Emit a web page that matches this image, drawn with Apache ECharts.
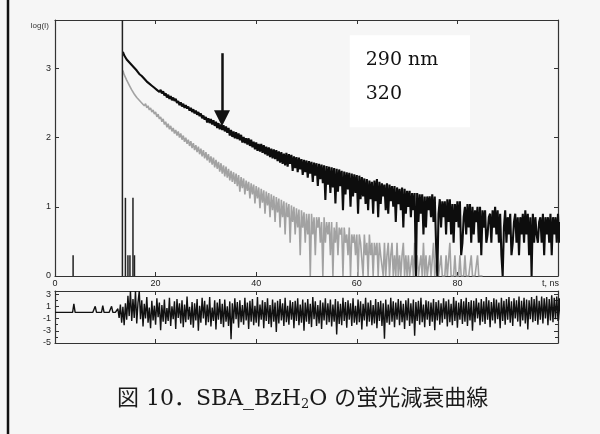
<!DOCTYPE html>
<html><head><meta charset="utf-8">
<script src="https://cdn.jsdelivr.net/npm/echarts@6/dist/echarts.min.js"></script>
<style>html,body{margin:0;padding:0;background:#f6f6f6}#c{width:600px;height:434px}</style>
</head><body><div id="c"></div>
<script>
// ---- data ----
const caption = '図 10．SBA_BzH{sub|2}O の蛍光減衰曲線';
const boxLines = ['290 nm', '320'];
const xTickLabels = [0, 20, 40, 60, 80];
const yTickLabels = [0, 1, 2, 3];
const residTickLabels = [3, 1, -1, -3, -5];
const dt = 0.25;             // ns between channels drawn
const blackT0 = 13.5;        // ns, first black point (290 nm)
const grayT0 = 13.5;         // ns, first gray point (320)
const residT0 = 0;           // ns, first residual point

// log(I), 290 nm (black)
const blackLog = [
3.24,3.19,3.20,3.13,3.15,3.09,3.11,3.05,3.07,3.01,
3.02,2.97,2.98,2.92,2.94,2.89,2.91,2.85,2.86,2.81,
2.83,2.78,2.80,2.75,2.77,2.72,2.74,2.69,2.71,2.66,
2.69,2.64,2.67,2.61,2.64,2.58,2.62,2.56,2.60,2.54,
2.58,2.53,2.56,2.50,2.53,2.47,2.51,2.45,2.49,2.43,
2.47,2.42,2.45,2.39,2.43,2.37,2.41,2.35,2.39,2.33,
2.37,2.31,2.35,2.28,2.32,2.26,2.30,2.22,2.28,2.21,
2.27,2.19,2.25,2.17,2.23,2.14,2.21,2.12,2.19,2.11,
2.18,2.09,2.16,2.07,2.14,2.03,2.11,2.01,2.09,1.99,
2.08,1.98,2.06,1.96,2.04,1.93,2.01,1.92,1.99,1.90,
1.99,1.88,1.97,1.86,1.94,1.83,1.93,1.81,1.91,1.80,
1.91,1.78,1.89,1.76,1.87,1.74,1.86,1.72,1.84,1.70,
1.83,1.69,1.82,1.66,1.80,1.64,1.79,1.62,1.77,1.60,
1.78,1.58,1.76,1.62,1.75,1.52,1.73,1.56,1.72,1.50,
1.71,1.54,1.69,1.46,1.68,1.50,1.67,1.42,1.66,1.48,
1.65,1.36,1.64,1.45,1.63,1.30,1.62,1.40,1.61,1.34,
1.60,1.10,1.59,1.32,1.58,1.20,1.57,1.28,1.56,1.05,
1.55,1.22,1.54,1.30,1.52,0.95,1.51,1.18,1.50,1.25,
1.49,1.00,1.48,1.15,1.47,1.20,1.46,0.90,1.45,1.11,
1.43,1.15,1.41,1.04,1.40,0.95,1.38,1.11,1.36,0.90,
1.38,1.08,1.40,0.85,1.36,1.04,1.34,1.15,1.32,0.95,
1.34,0.90,1.32,1.08,1.30,1.00,1.30,0.78,1.28,1.04,
1.26,0.95,1.28,0.70,1.26,0.90,1.23,1.00,1.23,0.85,
1.20,0.95,1.20,0.00,1.20,0.78,1.18,0.90,1.18,0.60,
1.15,0.70,1.15,0.95,1.15,0.85,1.18,0.78,1.15,0.48,
0.00,0.90,1.11,0.70,1.08,0.85,1.08,0.60,1.11,0.78,
1.11,0.60,1.04,0.48,1.04,0.78,1.08,0.70,1.08,0.30,
0.48,0.85,1.00,0.60,1.04,0.70,1.04,0.48,1.00,0.60,
0.95,0.78,1.00,0.48,1.00,0.30,0.95,0.70,0.95,0.48,
0.60,0.85,0.90,0.48,0.95,0.70,1.00,0.60,0.95,0.48,
0.90,0.30,0.00,0.70,0.95,0.48,0.85,0.60,0.90,0.30,
0.48,0.78,0.90,0.48,0.85,0.30,0.85,0.60,0.90,0.48,
0.95,0.60,0.90,0.30,0.85,0.00,0.90,0.48,0.85,0.60,
0.48,0.78,0.85,0.48,0.90,0.30,0.85,0.60,0.85,0.48,
0.90,0.30,0.85,0.60,0.85,0.48,0.90,0.48,0.78];

// log(I), 320 (gray)
const grayLog = [
2.97,2.91,2.89,2.83,2.82,2.76,2.76,2.69,2.70,2.63,
2.64,2.58,2.60,2.54,2.56,2.50,2.52,2.46,2.49,2.43,
2.46,2.40,2.43,2.37,2.40,2.34,2.37,2.30,2.34,2.27,
2.30,2.23,2.27,2.19,2.23,2.15,2.20,2.12,2.17,2.09,
2.14,2.06,2.11,2.03,2.09,2.00,2.06,1.97,2.03,1.94,
2.00,1.91,1.97,1.88,1.95,1.85,1.92,1.82,1.89,1.79,
1.87,1.76,1.84,1.73,1.82,1.70,1.79,1.67,1.76,1.64,
1.73,1.61,1.71,1.57,1.68,1.55,1.65,1.51,1.63,1.48,
1.60,1.44,1.58,1.42,1.55,1.38,1.52,1.36,1.50,1.33,
1.48,1.30,1.46,1.22,1.43,1.27,1.41,1.18,1.38,1.23,
1.36,1.12,1.34,1.18,1.32,1.05,1.30,1.12,1.28,0.98,
1.26,1.06,1.24,0.90,1.22,1.02,1.20,0.85,1.18,0.95,
1.16,0.78,1.14,0.92,1.12,0.70,1.10,0.85,1.08,0.60,
1.06,0.85,1.04,0.48,1.02,0.78,1.00,0.60,0.98,0.70,
0.96,0.30,0.95,0.70,0.92,0.48,0.90,0.60,0.90,0.00,
0.90,0.60,0.85,0.30,0.85,0.70,0.85,0.48,0.78,0.00,
0.85,0.48,0.78,0.60,0.78,0.30,0.78,0.00,0.70,0.48,
0.78,0.30,0.70,0.60,0.70,0.00,0.70,0.48,0.60,0.30,
0.70,0.00,0.60,0.48,0.60,0.30,0.60,0.00,0.60,0.48,
0.48,0.00,0.60,0.30,0.48,0.00,0.60,0.30,0.48,0.00,
0.48,0.30,0.48,0.00,0.48,0.30,0.30,0.00,0.48,0.00,
0.30,0.48,0.00,0.30,0.48,0.00,0.30,0.00,0.48,0.00,
0.30,0.00,0.30,0.48,0.00,0.30,0.00,0.30,0.00,0.00,
0.30,0.00,0.48,0.00,0.30,0.00,0.00,0.30,0.00,0.48,
0.00,0.30,0.00,0.00,0.30,0.00,0.00,0.48,0.00,0.00,
0.30,0.00,0.00,0.30,0.00,0.00,0.00,0.30,0.00,0.00,
0.48,0.00,0.00,0.00,0.30,0.00,0.00,0.00,0.30,0.00,
0.00,0.00,0.30,0.00,0.00,0.00,0.00,0.30,0.00,0.00,
0.00,0.00,0.30,0.00,0.00,0.00,0.00];

// weighted residuals
const residuals = [
0,0,0,0,0,0,0,0,0,0,0,0,0,0,0,1.4,0,0,0,0,0,0,0,0,0,0,0,0,0,0,0,0,1.0,0,0,0,0,0,1.1,0,0,0,0,0,0,1.0,0,0,0,0,
0.6,-0.9,1.3,-1.7,0.9,-2.1,1.5,-1.2,2.7,-0.6,
3.5,-1.4,2.2,-0.9,3.5,-1.8,1.6,3.5,-1.1,2.0,
-2.3,1.4,-1.0,2.5,-1.7,0.8,-2.6,1.9,-1.3,1.1,
-2.0,2.3,-0.8,1.6,-2.9,1.2,-1.5,2.1,-1.9,0.7,
-1.4,2.4,-2.2,1.0,-1.1,1.8,-2.7,2.2,-0.9,1.5,
-1.8,2.0,-2.4,1.3,-1.6,2.6,-1.2,0.9,-2.0,1.7,
-2.5,1.5,-1.3,2.2,-3.0,1.1,-1.7,2.4,-1.0,1.9,
-2.1,1.3,-1.6,2.5,-2.3,0.8,-1.4,2.0,-2.8,1.6,
-1.2,2.2,-1.9,1.4,-2.4,2.1,-1.5,1.0,-2.2,1.8,
-4.4,1.5,-1.8,2.3,-1.1,1.7,-2.5,2.0,-1.6,1.2,
-2.0,2.4,-1.3,1.6,-2.7,1.9,-1.5,2.2,-2.1,1.1,
-1.7,2.5,-2.3,1.3,-1.2,2.0,-2.6,1.7,-1.4,2.3,
-1.9,1.2,-2.4,2.1,-1.5,1.6,-3.2,1.9,-1.8,2.2,
-1.3,1.5,-2.2,2.4,-1.6,1.1,-2.0,2.0,-1.2,1.7,
-2.6,1.9,-1.4,2.3,-2.1,1.3,-1.7,2.1,-3.0,1.6,
-1.5,2.2,-1.9,1.4,-2.4,2.5,-1.1,1.8,-2.2,1.2,
-1.8,2.0,-2.7,1.6,-1.3,2.3,-2.0,1.5,-1.6,2.1,
-2.3,1.3,-1.5,2.2,-3.6,1.8,-1.9,1.4,-2.1,2.4,
-1.4,1.7,-2.5,2.0,-1.2,1.5,-2.2,2.3,-1.7,1.1,
-2.0,2.1,-1.6,1.8,-2.8,1.4,-1.3,2.4,-2.3,1.6,
-1.5,2.0,-2.1,1.2,-1.8,2.2,-2.6,1.7,-1.4,1.9,
-2.2,1.5,-4.3,2.1,-1.7,1.3,-2.0,2.4,-1.5,1.8,
-2.4,1.6,-1.2,2.2,-2.1,1.9,-1.6,1.4,-2.7,2.0,
-1.3,2.3,-2.2,1.5,-1.8,2.1,-3.8,1.7,-1.4,1.9,
-2.0,2.4,-1.6,1.3,-2.4,2.0,-1.2,1.8,-2.2,1.6,
-1.5,2.2,-2.9,1.7,-1.3,2.0,-2.0,1.5,-1.7,2.3,
-1.1,1.8,-2.3,2.1,-1.6,1.4,-2.1,2.5,-1.4,1.9,
-2.5,1.6,-1.2,2.2,-1.9,1.8,-1.5,2.4,-2.2,1.7,
-1.3,2.0,-3.0,1.9,-1.6,2.3,-1.0,1.6,-2.1,2.2,
-1.5,1.8,-1.9,2.5,-1.2,2.0,-2.4,1.7,-1.3,2.3,
-1.8,2.1,-1.1,1.6,-2.6,2.4,-1.4,1.9,-2.0,2.2,
-1.2,2.5,-1.7,1.8,-2.2,2.3,-1.0,2.0,-1.5,2.6,
-2.3,1.9,-1.3,2.4,-1.8,2.1,-2.8,2.0,-1.1,2.5,
-1.6,2.2,-1.4,2.7,-2.0,1.9,-1.2,2.6,-1.8,2.3,
-1.0,2.5,-2.1,2.2,-1.3,2.8,-1.6,2.4,-1.1,2.6,
-1.4,2.3,-1.2];

// excitation / scatter spikes near the start (t in ns, log height)
const spikeT = [3.6, 13.4, 14.0, 14.5, 14.9, 15.5, 15.8];
const spikeH = [0.30, 3.9, 1.13, 0.30, 0.30, 1.13, 0.30];

// arrow annotation (ns, log) and label box (ns, log)
const arrowT = 33.2, arrowFrom = 3.22, arrowTo = 2.28;
const boxT = [58.6, 82.5], boxY = [3.48, 2.15];
// ------------------------------------

const toPairs = (t0, arr) => arr.map((v, i) => [t0 + i * dt, v]);
const blackData = toPairs(blackT0, blackLog);
const grayData = toPairs(grayT0, grayLog);
const residData = toPairs(residT0, residuals);
const spikeData = spikeT.map((t, i) => [t, spikeH[i]]);

const axisCol = '#333';
const lab = { fontSize: 9, color: '#222', fontFamily: 'Liberation Sans' };
function xAx(grid, pos, labels) {
  return {
    type: 'value', gridIndex: grid, position: pos, min: 0, max: 100, interval: 20,
    axisLine: { show: true, onZero: false, lineStyle: { color: axisCol, width: 1.2 } },
    axisTick: { show: true, inside: true, length: 4, lineStyle: { color: axisCol } },
    axisLabel: labels ? Object.assign({ margin: 3, formatter: v => xTickLabels.includes(v) ? String(v) : '' }, lab) : { show: false },
    splitLine: { show: false }
  };
}
function yAx(grid, pos, min, max, interval, labels, minor) {
  return {
    type: 'value', gridIndex: grid, position: pos, min: min, max: max, interval: interval,
    axisLine: { show: true, onZero: false, lineStyle: { color: axisCol, width: 1.2 } },
    axisTick: { show: true, inside: true, length: 4, lineStyle: { color: axisCol } },
    minorTick: { show: !!minor, splitNumber: 2, length: 3, lineStyle: { color: axisCol } },
    axisLabel: labels ? Object.assign({ margin: 4, formatter: v => labels.includes(v) ? String(v) : '' }, lab) : { show: false },
    splitLine: { show: false }
  };
}

const xMain = xAx(0, 'bottom', true);
xMain.name = 't, ns';
xMain.nameLocation = 'end';
xMain.nameGap = 1;
xMain.nameTextStyle = { align: 'right', verticalAlign: 'top', padding: [3, 0, 0, 0], fontSize: 9, color: '#222', fontFamily: 'Liberation Sans' };

const yMain = yAx(0, 'left', 0, 3.7, 1, yTickLabels, false);
yMain.name = 'log(I)';
yMain.nameLocation = 'end';
yMain.nameGap = -10;
yMain.nameTextStyle = { align: 'right', padding: [0, 6, 0, 0], fontSize: 8, color: '#333', fontFamily: 'Liberation Sans' };

const serif = "'DejaVu Serif', 'Noto Sans CJK JP'";

const option = {
  animation: false,
  backgroundColor: '#f6f6f6',
  title: {
    text: caption, left: 112, top: 383,
    textStyle: { fontFamily: serif, fontSize: 22, fontWeight: 'normal', color: '#1a1a1a',
      rich: { sub: { fontFamily: serif, fontSize: 13, color: '#1a1a1a', padding: [10, 0, 0, 0] } } }
  },
  grid: [
    { left: 55, top: 20, width: 503, height: 256 },
    { left: 55, top: 291, width: 503, height: 52 }
  ],
  xAxis: [xMain, xAx(0, 'top', false), xAx(1, 'bottom', false), xAx(1, 'top', false)],
  yAxis: [yMain, yAx(0, 'right', 0, 3.7, 1, null, false),
          yAx(1, 'left', -5, 3.5, 2, residTickLabels, true), yAx(1, 'right', -5, 3.5, 2, null, true)],
  graphic: [{ type: 'line', shape: { x1: 8, y1: 0, x2: 8, y2: 434 }, style: { stroke: '#111', lineWidth: 2.5 } }],
  series: [
    { name: '320', type: 'line', xAxisIndex: 0, yAxisIndex: 0, data: grayData, showSymbol: false,
      lineStyle: { color: '#a2a2a2', width: 1.6 }, z: 2, clip: true },
    { name: '290 nm', type: 'line', xAxisIndex: 0, yAxisIndex: 0, data: blackData, showSymbol: false,
      lineStyle: { color: '#0d0d0d', width: 2.1 }, z: 3, clip: true,
      markLine: { silent: true, symbol: ['none', 'triangle'], symbolSize: 16, label: { show: false },
        lineStyle: { color: '#111', width: 2.5, type: 'solid' },
        data: [[{ coord: [arrowT, arrowFrom] }, { coord: [arrowT, arrowTo] }]] },
      markArea: { silent: true, itemStyle: { color: '#ffffff' },
        label: { show: true, position: 'insideTopLeft', distance: 0, offset: [16, 8],
          formatter: boxLines.join('\n'), fontFamily: 'DejaVu Serif', fontSize: 19, lineHeight: 34, color: '#111' },
        data: [[{ coord: [boxT[0], boxY[0]] }, { coord: [boxT[1], boxY[1]] }]] } },
    { name: 'spikes', type: 'bar', xAxisIndex: 0, yAxisIndex: 0, data: spikeData, barWidth: 1.5,
      itemStyle: { color: '#222' }, z: 4, clip: true },
    { name: 'residuals', type: 'line', xAxisIndex: 2, yAxisIndex: 2, data: residData, showSymbol: false,
      lineStyle: { color: '#111', width: 1.4 }, clip: true }
  ]
};
echarts.init(document.getElementById('c'), null, { renderer: 'canvas' }).setOption(option);
</script></body></html>
